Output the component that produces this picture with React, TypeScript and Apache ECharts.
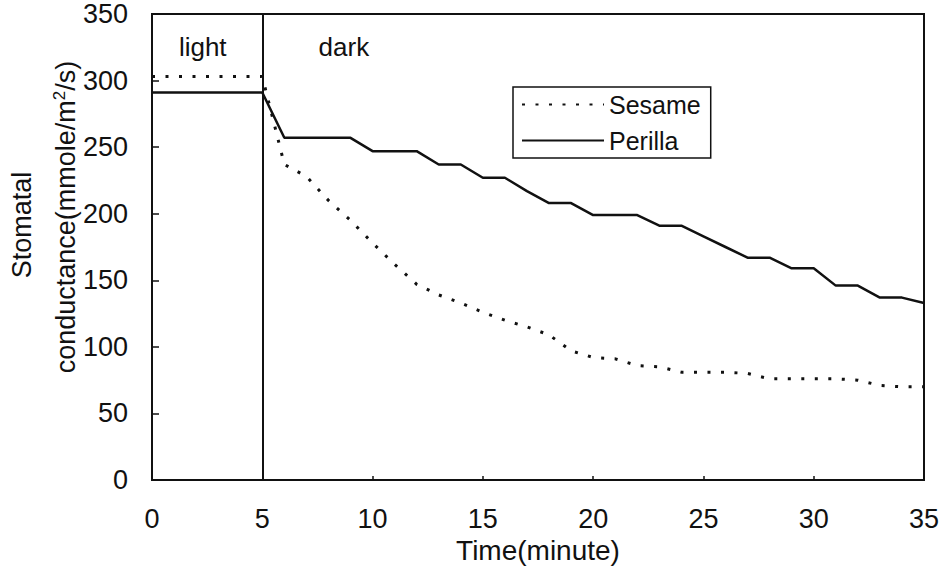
import React, { useEffect, useRef } from "react";
import * as echarts from "echarts";

const minutes = [0, 1, 2, 3, 4, 5, 6, 7, 8, 9, 10, 11, 12, 13, 14, 15, 16, 17, 18, 19, 20, 21, 22, 23, 24, 25, 26, 27, 28, 29, 30, 31, 32, 33, 34, 35];
const sesame = [303, 303, 303, 303, 303, 303, 237, 228, 210, 195, 178, 162, 147, 139, 133, 126, 120, 115, 109, 97, 92, 91, 86, 85, 81, 81, 81, 80, 76, 76, 76, 76, 75, 71, 70, 70];
const perilla = [291, 291, 291, 291, 291, 291, 257, 257, 257, 257, 247, 247, 247, 237, 237, 227, 227, 217, 208, 208, 199, 199, 199, 191, 191, 183, 175, 167, 167, 159, 159, 146, 146, 137, 137, 133];
const seriesNames = ["Sesame", "Perilla"];
const phaseLabels = [
  { name: "light", x: 2.3, y: 325 },
  { name: "dark", x: 8.7, y: 325 },
];
const switchMinute = 5;
const xTitle = "Time(minute)";
const yTitle1 = "Stomatal";

const FONT = "'Liberation Sans', Arial, Helvetica, sans-serif";
const INK = "#111";

export default function App() {
  const ref = useRef<HTMLDivElement>(null);
  useEffect(() => {
    if (!ref.current) return;
    const chart = echarts.init(ref.current, undefined, { renderer: "svg" });
    const pair = (vals: number[]) => minutes.map((m, i) => [m, vals[i]]);
    chart.setOption({
      animation: false,
      backgroundColor: "#fff",
      textStyle: { fontFamily: FONT, color: INK },
      grid: {
        left: 152,
        right: 21,
        top: 14,
        bottom: 96,
        show: true,
        borderColor: INK,
        borderWidth: 2,
      },
      legend: {
        data: seriesNames,
        orient: "vertical",
        left: 513,
        top: 87,
        borderColor: INK,
        borderWidth: 1.5,
        borderRadius: 0,
        padding: [5, 10, 5, 8],
        itemWidth: 82,
        itemHeight: 14,
        itemGap: 11,
        itemStyle: { opacity: 0 },
        textStyle: { fontSize: 25, color: INK, fontFamily: FONT, padding: [0, 0, 0, 0] },
      },
      xAxis: {
        type: "value",
        min: 0,
        max: 35,
        interval: 5,
        name: xTitle,
        nameLocation: "middle",
        nameGap: 53,
        nameTextStyle: { fontSize: 28, color: INK, fontFamily: FONT },
        axisLine: { lineStyle: { color: INK, width: 2 } },
        axisTick: { inside: true, length: 4, lineStyle: { color: INK, width: 1.5 } },
        axisLabel: { fontSize: 27, color: INK, margin: 25, fontFamily: FONT },
        splitLine: { show: false },
      },
      yAxis: {
        type: "value",
        min: 0,
        max: 350,
        interval: 50,
        axisLine: { show: true, lineStyle: { color: INK, width: 2 } },
        axisTick: { show: true, inside: true, length: 7, lineStyle: { color: INK, width: 1.5 } },
        axisLabel: { fontSize: 27, color: INK, margin: 24, fontFamily: FONT },
        splitLine: { show: false },
      },
      series: [
        {
          name: seriesNames[0],
          type: "line",
          data: pair(sesame),
          symbol: "none",
          showSymbol: false,
          lineStyle: { color: INK, width: 3, type: [3, 10.5] },
          itemStyle: { color: INK },
          z: 3,
        },
        {
          name: seriesNames[1],
          type: "line",
          data: pair(perilla),
          symbol: "none",
          showSymbol: false,
          lineStyle: { color: INK, width: 2.5, type: "solid" },
          itemStyle: { color: INK },
          z: 4,
          markLine: {
            silent: true,
            symbol: ["none", "none"],
            label: { show: false },
            lineStyle: { color: INK, width: 2, type: "solid" },
            data: [{ xAxis: switchMinute }],
          },
          markPoint: {
            silent: true,
            symbol: "circle",
            symbolSize: 0,
            label: {
              show: true,
              position: "inside",
              formatter: "{b}",
              fontSize: 26,
              color: INK,
              fontFamily: FONT,
            },
            data: phaseLabels.map((p) => ({ name: p.name, coord: [p.x, p.y] })),
          },
        },
      ],
      graphic: [
        {
          type: "text",
          x: 22,
          y: 225,
          rotation: Math.PI / 2,
          style: {
            text: yTitle1,
            font: `27px ${FONT}`,
            fill: INK,
            align: "center",
            verticalAlign: "middle",
          },
        },
        {
          type: "text",
          x: 66,
          y: 217,
          rotation: Math.PI / 2,
          style: {
            text: "{a|conductance(mmole/m}{s|2}{a|/s)}",
            fill: INK,
            align: "center",
            verticalAlign: "middle",
            rich: {
              a: { fontSize: 27, fontFamily: FONT, fill: INK, lineHeight: 30 },
              s: { fontSize: 17, fontFamily: FONT, fill: INK, verticalAlign: "top", lineHeight: 30 },
            },
          },
        },
      ],
    });
    return () => chart.dispose();
  }, []);
  return (
    <div
      ref={ref}
      style={{ position: "fixed", left: 0, top: 0, width: 945, height: 576, background: "#fff" }}
    />
  );
}
